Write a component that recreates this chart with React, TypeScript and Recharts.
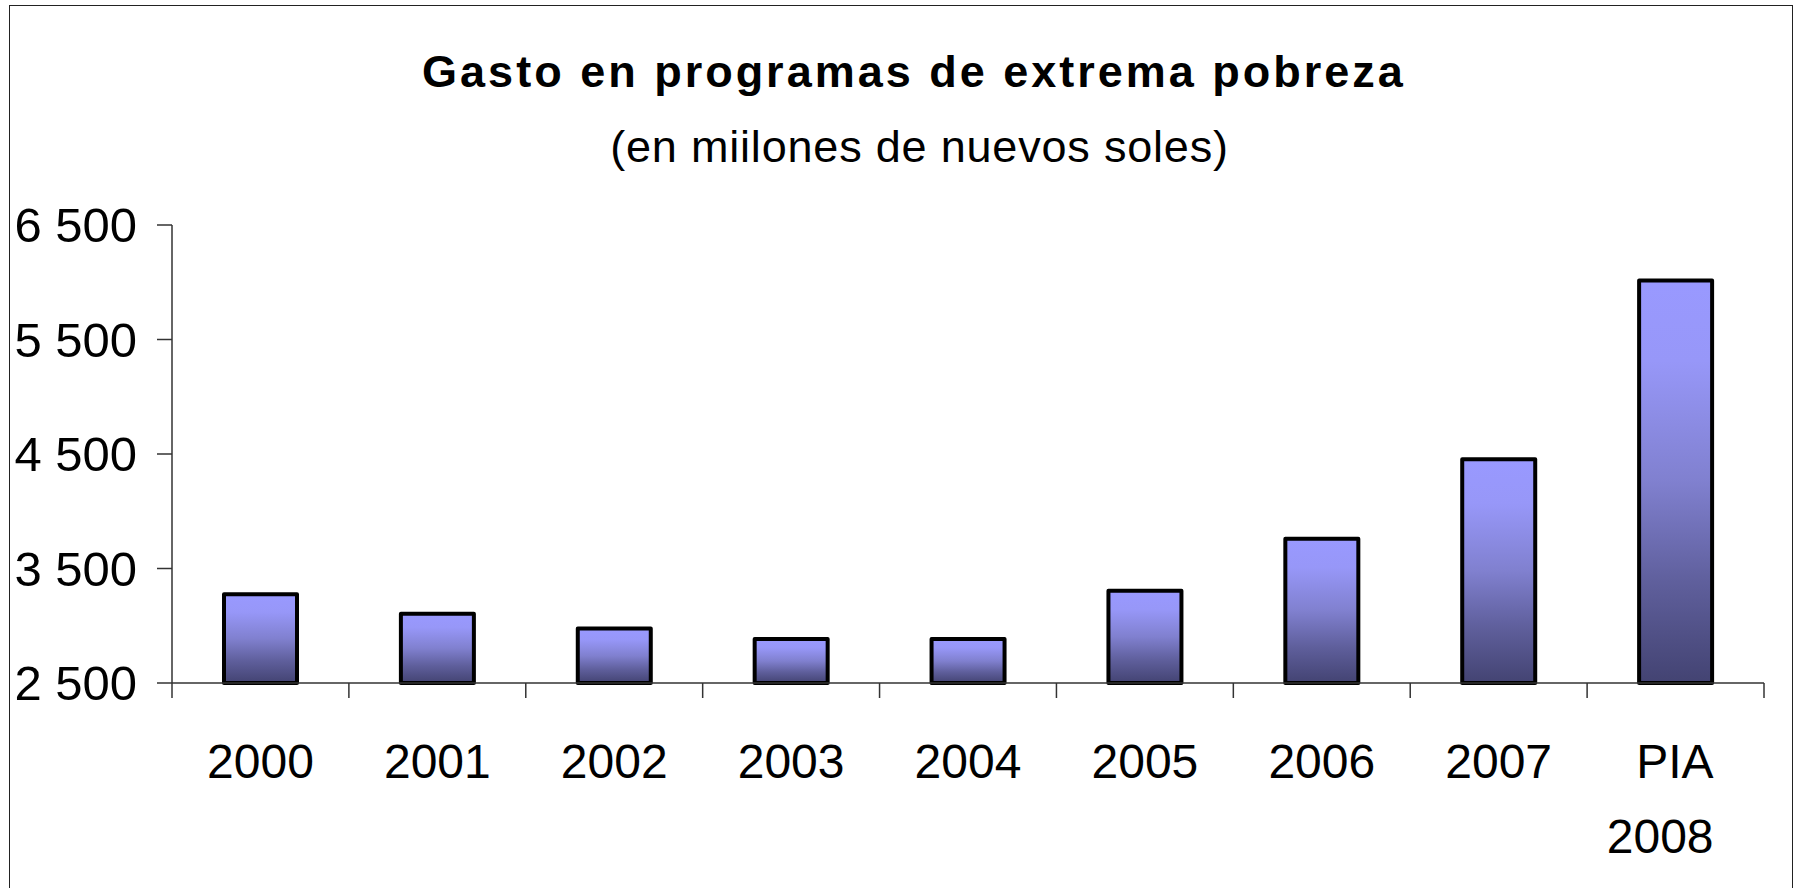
import React from 'react';
import { BarChart, Bar, XAxis, YAxis } from 'recharts';

const CATEGORIES = ['2000', '2001', '2002', '2003', '2004', '2005', '2006', '2007', 'PIA 2008'];
const SPENDING = [3275, 3105, 2975, 2885, 2885, 3305, 3760, 4455, 6015];
const Y_TICKS = [2500, 3500, 4500, 5500, 6500];

const data = CATEGORIES.map((name, i) => ({ name, gasto: SPENDING[i] }));

const FONT = '"Liberation Sans", Arial, sans-serif';
const AXIS_COLOR = '#333';

const fmt = (v: number) => {
  const s = String(v);
  return s.length > 3 ? s.slice(0, s.length - 3) + ' ' + s.slice(-3) : s;
};

// category labels + tick marks on the band edges (Excel style)
const XTick = (props: any) => {
  const { x, y, payload, index } = props;
  const half = payload.offset ?? 0;
  const lines = String(payload.value).split(' ');
  const multi = lines.length > 1;
  const tx = multi ? x + 38 : x;
  return (
    <g>
      {index === 0 && (
        <line x1={x - half} x2={x - half} y1={y - 15} y2={y} stroke={AXIS_COLOR} strokeWidth={1.5} />
      )}
      <line x1={x + half} x2={x + half} y1={y - 15} y2={y} stroke={AXIS_COLOR} strokeWidth={1.5} />
      <text x={tx} y={y + 80} textAnchor={multi ? 'end' : 'middle'} fontFamily={FONT} fontSize={48} fill="#000">
        {lines.map((l, i) => (
          <tspan key={l} x={tx} dy={i === 0 ? 0 : 75}>
            {l}
          </tspan>
        ))}
      </text>
    </g>
  );
};

const YTick = (props: any) => {
  const { x, y, payload } = props;
  return (
    <text x={x} y={y + 17} textAnchor="end" fontFamily={FONT} fontSize={49} fill="#000">
      {fmt(payload.value)}
    </text>
  );
};

export default function App() {
  return (
    <div
      style={{
        position: 'absolute',
        left: 0,
        top: 0,
        width: 1796,
        height: 888,
        overflow: 'hidden',
        background: '#fff',
        fontFamily: FONT,
      }}
    >
      <div
        style={{
          position: 'absolute',
          left: 9,
          top: 5,
          width: 1784,
          height: 950,
          border: '1.5px solid #222',
          boxSizing: 'border-box',
        }}
      />
      <div
        style={{
          position: 'absolute',
          left: 0,
          top: 48.5,
          width: 1828,
          textAlign: 'center',
          fontSize: 45,
          lineHeight: '45px',
          fontWeight: 'bold',
          letterSpacing: 3,
          color: '#000',
          whiteSpace: 'nowrap',
        }}
      >
        Gasto en programas de extrema pobreza
      </div>
      <div
        style={{
          position: 'absolute',
          left: 0,
          top: 123.5,
          width: 1839,
          textAlign: 'center',
          fontSize: 45,
          lineHeight: '45px',
          letterSpacing: 0.8,
          color: '#000',
          whiteSpace: 'nowrap',
        }}
      >
        (en miilones de nuevos soles)
      </div>
      <div style={{ position: 'absolute', left: 0, top: 0 }}>
        <BarChart width={1796} height={888} data={data} margin={{ top: 225, right: 32, bottom: 25, left: 22 }}>
          <defs>
            <linearGradient id="barFill" x1="0" y1="0" x2="0" y2="1">
              <stop offset="0%" stopColor="#9999ff" />
              <stop offset="20%" stopColor="#9797f8" />
              <stop offset="50%" stopColor="#8080cf" />
              <stop offset="75%" stopColor="#5f5f9c" />
              <stop offset="100%" stopColor="#434372" />
            </linearGradient>
          </defs>
          <XAxis
            dataKey="name"
            interval={0}
            height={180}
            tickSize={15}
            tickMargin={0}
            tickLine={false}
            axisLine={{ stroke: AXIS_COLOR, strokeWidth: 1.5 }}
            tick={<XTick />}
          />
          <YAxis
            type="number"
            domain={[2500, 6500]}
            ticks={Y_TICKS}
            interval={0}
            width={150}
            tickSize={15}
            tickMargin={20}
            tickLine={{ stroke: AXIS_COLOR, strokeWidth: 1.5 }}
            axisLine={{ stroke: AXIS_COLOR, strokeWidth: 1.5 }}
            tick={<YTick />}
          />
          <Bar
            dataKey="gasto"
            barSize={73}
            fill="url(#barFill)"
            stroke="#000"
            strokeWidth={4}
            strokeLinejoin="round"
            isAnimationActive={false}
          />
        </BarChart>
      </div>
    </div>
  );
}
